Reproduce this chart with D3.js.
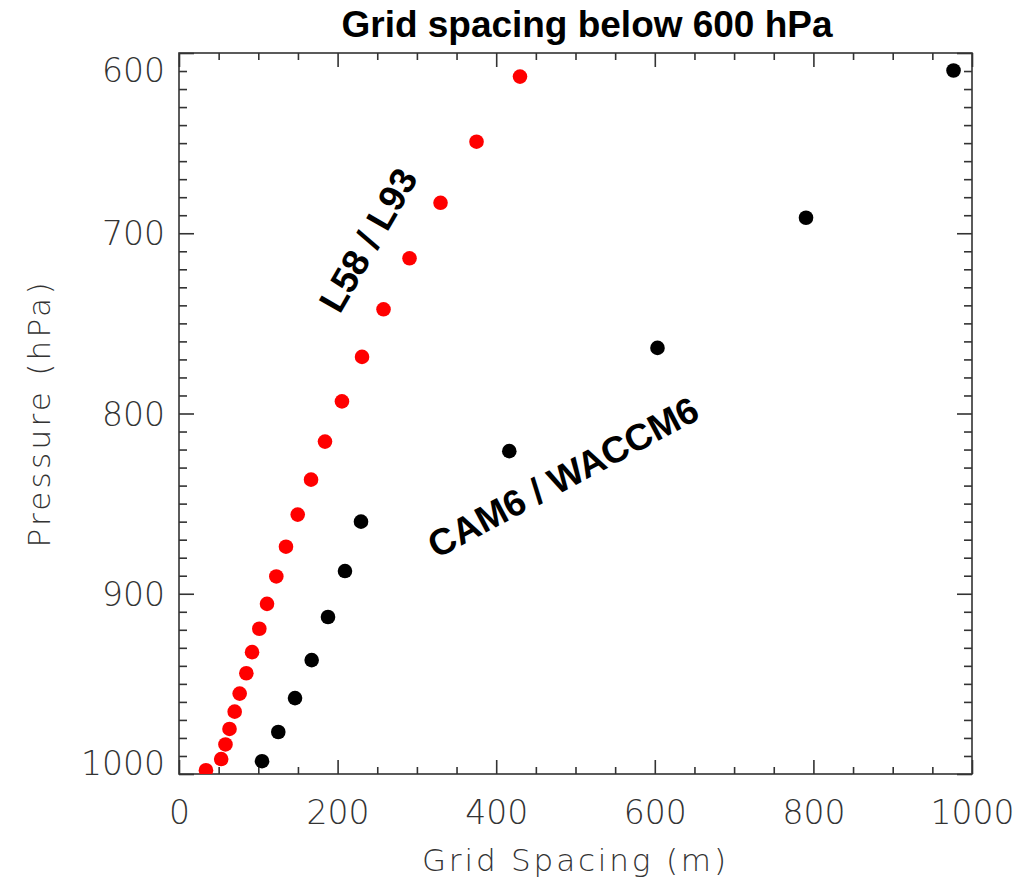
<!DOCTYPE html>
<html>
<head>
<meta charset="utf-8">
<script src="https://cdn.jsdelivr.net/npm/d3@7"></script>
<style>
  html, body { margin: 0; padding: 0; background: #fff; }
  svg { display: block; }
</style>
</head>
<body>
<svg id="chart" width="1022" height="885"></svg>
<script>
// ---- Data ----
const chartTitle = "Grid spacing below 600 hPa";
const xLabel = "Grid Spacing (m)";
const yLabel = "Pressure (hPa)";
const redLabel = "L58 / L93";
const blackLabel = "CAM6 / WACCM6";

// L58 / L93 (red)
const redSpacing  = [430.0, 375.2, 329.8, 290.7, 257.9, 230.8, 205.5, 184.1, 166.5, 149.7, 134.9,
                     122.7, 111.0, 101.3, 92.1, 84.9, 76.5, 70.2, 63.7, 58.6, 53.2, 34.0];
const redPressure = [613.1, 649.2, 683.1, 713.9, 742.2, 768.6, 793.3, 815.6, 836.7, 856.1, 873.9,
                     890.4, 905.6, 919.4, 932.4, 944.1, 955.4, 965.4, 975.0, 983.6, 991.7, 997.9];

// CAM6 / WACCM6 (black)
const blackSpacing  = [976.7, 790.7, 603.4, 416.5, 229.5, 209.3, 187.9, 167.3, 146.3, 125.2, 104.7];
const blackPressure = [609.7, 691.4, 763.6, 820.9, 860.0, 887.4, 912.9, 936.8, 957.9, 976.7, 992.9];

const xMajorTicks = [0, 200, 400, 600, 800, 1000];
const yMajorTicks = [600, 700, 800, 900, 1000];
const xDomain = [0, 1000];
const yDomain = [600, 1000];

// ---- Layout ----
const W = 1022, H = 885;
const margin = { left: 179, top: 53, right: 50, bottom: 111 };
const iw = W - margin.left - margin.right;
const ih = H - margin.top - margin.bottom;

const svg = d3.select("#chart");
const g = svg.append("g").attr("transform", `translate(${margin.left},${margin.top})`);

const x = d3.scaleLinear().domain(xDomain).range([0, iw]);
const y = d3.scaleLinear().domain(yDomain).range([0, ih]);

const axisColor = "#333";
const labelFont = "'DejaVu Sans', sans-serif";

// minor ticks
const xMinor = d3.range(xDomain[0], xDomain[1] + 1, 50).filter(v => !xMajorTicks.includes(v));
const yMinor = d3.range(yDomain[0], yDomain[1] + 1, 10).filter(v => !yMajorTicks.includes(v));

function styleAxis(sel) {
  sel.select(".domain").remove();
  sel.selectAll(".tick line").attr("stroke", axisColor).attr("stroke-width", 1.6);
}

// Bottom axis (major, with labels)
const bottom = g.append("g").attr("transform", `translate(0,${ih})`)
  .call(d3.axisBottom(x).tickValues(xMajorTicks).tickSize(-14).tickPadding(26).tickFormat(d3.format("d")));
styleAxis(bottom);
bottom.selectAll(".tick text")
  .attr("font-family", labelFont).attr("font-size", 33).attr("font-weight", 200)
  .attr("fill", "#333").attr("dy", "0.71em").attr("y", 27);
g.append("g").attr("transform", `translate(0,${ih})`)
  .call(d3.axisBottom(x).tickValues(xMinor).tickSize(-7).tickFormat(""))
  .call(styleAxis);

// Top axis
g.append("g")
  .call(d3.axisTop(x).tickValues(xMajorTicks).tickSize(-14).tickFormat(""))
  .call(styleAxis);
g.append("g")
  .call(d3.axisTop(x).tickValues(xMinor).tickSize(-7).tickFormat(""))
  .call(styleAxis);

// Left axis (major, with labels)
const left = g.append("g")
  .call(d3.axisLeft(y).tickValues(yMajorTicks).tickSize(-15).tickPadding(14).tickFormat(d3.format("d")));
styleAxis(left);
left.selectAll(".tick text")
  .attr("font-family", labelFont).attr("font-size", 33).attr("font-weight", 200)
  .attr("fill", "#333")
  .attr("x", -14)
  .attr("dy", d => d === yDomain[0] ? "0.85em" : (d === yDomain[1] ? "0" : "0.35em"));
g.append("g")
  .call(d3.axisLeft(y).tickValues(yMinor).tickSize(-8).tickFormat(""))
  .call(styleAxis);

// Right axis
g.append("g").attr("transform", `translate(${iw},0)`)
  .call(d3.axisRight(y).tickValues(yMajorTicks).tickSize(-15).tickFormat(""))
  .call(styleAxis);
g.append("g").attr("transform", `translate(${iw},0)`)
  .call(d3.axisRight(y).tickValues(yMinor).tickSize(-8).tickFormat(""))
  .call(styleAxis);

// Frame
g.append("rect").attr("x", 0).attr("y", 0).attr("width", iw).attr("height", ih)
  .attr("fill", "none").attr("stroke", axisColor).attr("stroke-width", 1.6);

// Clip
svg.append("defs").append("clipPath").attr("id", "plotclip")
  .append("rect").attr("x", 0).attr("y", 0).attr("width", iw).attr("height", ih);

const pts = g.append("g").attr("clip-path", "url(#plotclip)");
pts.selectAll("circle.red")
  .data(d3.zip(redSpacing, redPressure)).join("circle")
  .attr("class", "red")
  .attr("cx", d => x(d[0])).attr("cy", d => y(d[1])).attr("r", 7.3)
  .attr("fill", "#f00");
pts.selectAll("circle.black")
  .data(d3.zip(blackSpacing, blackPressure)).join("circle")
  .attr("class", "black")
  .attr("cx", d => x(d[0])).attr("cy", d => y(d[1])).attr("r", 7.3)
  .attr("fill", "#000");

// Title
svg.append("text")
  .attr("x", 587).attr("y", 37)
  .attr("text-anchor", "middle")
  .attr("font-family", "'Liberation Sans', Arial, sans-serif")
  .attr("font-weight", "bold").attr("font-size", 36)
  .attr("fill", "#000")
  .attr("textLength", 491).attr("lengthAdjust", "spacingAndGlyphs")
  .text(chartTitle);

// Axis titles
svg.append("text")
  .attr("x", 574).attr("y", 871)
  .attr("text-anchor", "middle")
  .attr("font-family", labelFont).attr("font-size", 31).attr("font-weight", 200)
  .attr("fill", "#333")
  .attr("textLength", 304).attr("lengthAdjust", "spacing")
  .text(xLabel);

svg.append("text")
  .attr("transform", "translate(50,415) rotate(-90)")
  .attr("text-anchor", "middle")
  .attr("font-family", labelFont).attr("font-size", 31).attr("font-weight", 200)
  .attr("fill", "#333")
  .attr("textLength", 265).attr("lengthAdjust", "spacing")
  .text(yLabel);

// Series annotations
svg.append("text")
  .attr("transform", "translate(368,240) rotate(-60)")
  .attr("text-anchor", "middle").attr("dy", "0.35em")
  .attr("font-family", "'Liberation Sans', Arial, sans-serif")
  .attr("font-weight", "bold").attr("font-size", 37)
  .attr("fill", "#000")
  .text(redLabel);

svg.append("text")
  .attr("transform", "translate(563,477) rotate(-28)")
  .attr("text-anchor", "middle").attr("dy", "0.35em")
  .attr("font-family", "'Liberation Sans', Arial, sans-serif")
  .attr("font-weight", "bold").attr("font-size", 37)
  .attr("fill", "#000")
  .text(blackLabel);
</script>
</body>
</html>
